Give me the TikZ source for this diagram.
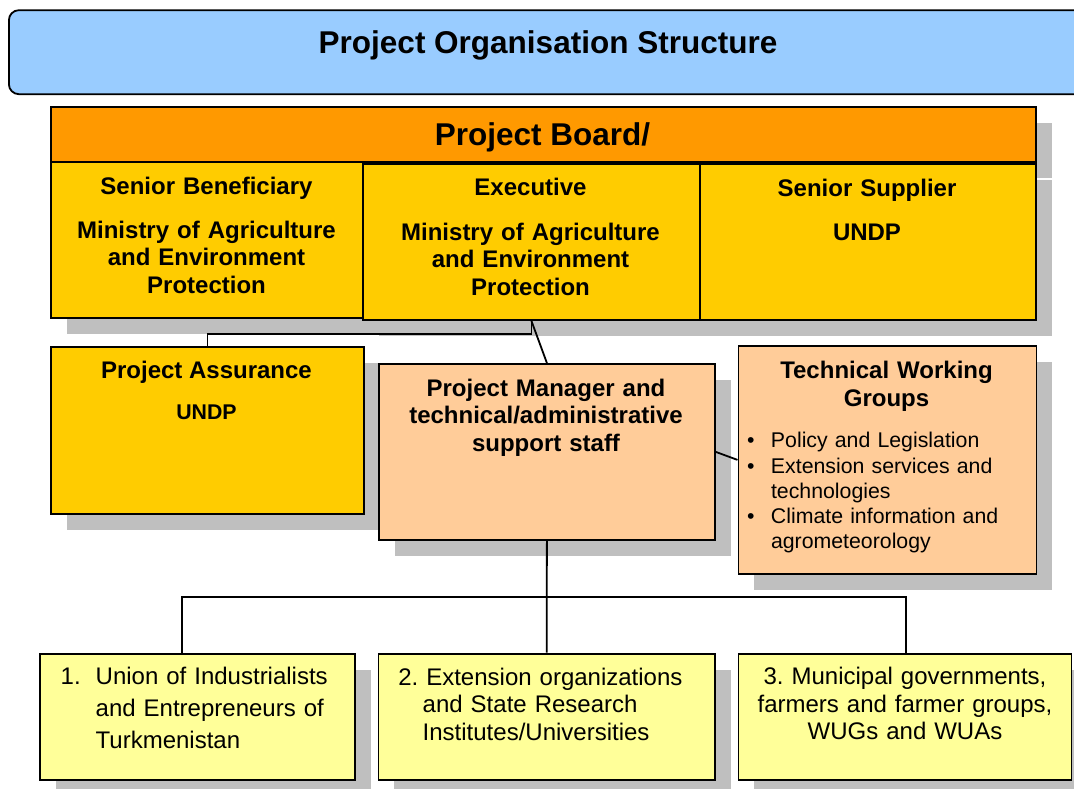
\documentclass[tikz,border=0pt]{standalone}
\usepackage{fontspec}
\setmainfont{Liberation Sans}
\usetikzlibrary{shadows}
\frenchspacing
\definecolor{titleblue}{HTML}{99CCFF}
\definecolor{boardorange}{HTML}{FF9900}
\definecolor{gold}{HTML}{FFCC00}
\definecolor{peach}{HTML}{FFCC99}
\definecolor{paleyellow}{HTML}{FFFF99}
\definecolor{shgray}{HTML}{BFBFBF}
\newcommand\myTitleFont{\fontsize{31.5pt}{36pt}\selectfont\bfseries}
\newcommand\myHeadFont{\fontsize{24pt}{27.5pt}\selectfont\bfseries}
\newcommand\myHeadFontB{\fontsize{24pt}{28.4pt}\selectfont\bfseries}
\newcommand\mySmallBold{\fontsize{21.3pt}{25pt}\selectfont\bfseries}
\newcommand\myBulFont{\fontsize{21.3pt}{25.3pt}\selectfont}
\newcommand\myRegFont{\fontsize{24pt}{27.5pt}\selectfont}
\newcommand\myRegFontW{\fontsize{24pt}{32.3pt}\selectfont}
\newcommand\mybul{\makebox[24pt][l]{\textbullet}}
\newcommand\myind{\hspace*{24pt}}
\tikzset{
  box/.style={rectangle, draw=black, line width=1.8pt, inner sep=0pt, anchor=north west,
    general shadow={fill=shgray, shadow xshift=16pt, shadow yshift=-16pt}},
  conn/.style={draw=black, line width=1.8pt},
  txt/.style={inner sep=0pt, outer sep=0pt},
}
\begin{document}
\frenchspacing
\begin{tikzpicture}[x=1pt, y=-1pt]
\useasboundingbox (0,0) rectangle (1074,789);
\clip (0,0) rectangle (1074,789);
\fill[white] (0,0) rectangle (1074,789);

% title bar
\node[rectangle, draw=black, line width=1.8pt, rounded corners=10pt, fill=titleblue,
  inner sep=0pt, anchor=north west, minimum width=1082pt, minimum height=84pt] (titlebar) at (8,9.3) {};
\node[txt, anchor=base, font=\myTitleFont] (titletxt) at (548,53.5) {Project Organisation Structure};

% project board
\node[box, fill=boardorange, minimum width=985pt, minimum height=55pt] (hdr) at (50,106) {};
\node[txt, anchor=base, font=\myTitleFont] (hdrtxt) at (542.6,145.7) {Project Board/};

\node[box, fill=gold, minimum width=312pt, minimum height=156pt] (sb) at (50,161) {};
\node[box, fill=gold, minimum width=337pt, minimum height=156pt] (ex) at (362,163) {};
\node[box, fill=gold, minimum width=336pt, minimum height=156pt] (ss) at (699,163) {};

\node[txt, anchor=base, text width=300pt, align=center, font=\myHeadFont] (sbtxt) at (206.5,194)
  {Senior Beneficiary\\[16.8pt]Ministry of Agriculture\\and Environment\\Protection};
\node[txt, anchor=base, text width=320pt, align=center, font=\myHeadFont] (extxt) at (530.5,196)
  {Executive\\[16.8pt]Ministry of Agriculture\\and Environment\\Protection};
\node[txt, anchor=base, text width=320pt, align=center, font=\myHeadFont] (sstxt) at (867,196.5)
  {Senior Supplier\\[16.3pt]UNDP};

% second row
\node[box, fill=gold, minimum width=313pt, minimum height=167pt] (pa) at (50,345.7) {};
\node[txt, anchor=base, font=\myHeadFont] (patxt) at (206.5,378.3) {Project Assurance};
\node[txt, anchor=base, font=\mySmallBold] (paund) at (206.5,419) {UNDP};

\node[box, fill=peach, minimum width=336pt, minimum height=176pt] (pm) at (378,363) {};
\node[txt, anchor=base, text width=320pt, align=center, font=\myHeadFont] (pmtxt) at (546,396)
  {Project Manager and\\technical/administrative\\support staff};

\node[box, fill=peach, minimum width=298pt, minimum height=228pt] (twg) at (737.5,345) {};
\node[txt, anchor=base, text width=290pt, align=center, font=\myHeadFontB] (twgtxt) at (886.5,378.3)
  {Technical Working\\Groups};
\node[txt, anchor=base west, text width=285pt, align=left, font=\myBulFont] (twglist) at (747,447.7)
  {\mybul Policy and Legislation\\
   \mybul Extension services and\\
   \myind technologies\\
   \mybul Climate information and\\
   \myind agrometeorology};

% bottom row
\node[box, fill=paleyellow, minimum width=315pt, minimum height=126.6pt] (b1) at (39,652.7) {};
\node[box, fill=paleyellow, minimum width=336.5pt, minimum height=126.6pt] (b2) at (377.5,652.7) {};
\node[box, fill=paleyellow, minimum width=333pt, minimum height=126.6pt] (b3) at (737.5,652.7) {};

\node[txt, anchor=base west, text width=290pt, align=left, font=\myRegFontW] (b1txt) at (60.7,684.3)
  {\makebox[35pt][l]{1.}Union of Industrialists\\
   \hspace*{35pt}and Entrepreneurs of\\
   \hspace*{35pt}Turkmenistan};
\node[txt, anchor=base west, text width=320pt, align=left, font=\myRegFont] (b2txt) at (398.3,685)
  {2. Extension organizations\\
   \hspace*{24.4pt}and State Research\\
   \hspace*{24.4pt}Institutes/Universities};
\node[txt, anchor=base, text width=320pt, align=center, font=\myRegFont] (b3txt) at (905,684.5)
  {3. Municipal governments,\\farmers and farmer groups,\\WUGs and WUAs};

% connectors
\draw[conn] (ex.south) -- ++(0,13) -| (pa.north);
\draw[conn] (ex.south) -- (pm.north);
\draw[conn] (pm.east) -- (twg.west);
\draw[conn] (pm.south) -- (b2.north);
\coordinate (b1in) at (182.3,652.7);
\coordinate (b3in) at (906,652.7);
\draw[conn] (b1in) -- ++(0,-55.7) -| (b3in);
\end{tikzpicture}
\end{document}
